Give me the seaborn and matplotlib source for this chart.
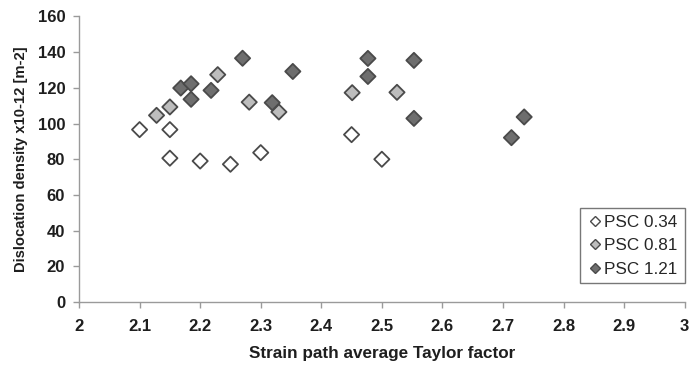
import matplotlib
matplotlib.use("Agg")
import matplotlib.pyplot as plt
import seaborn as sns
import pandas as pd

series_names = ["PSC 0.34", "PSC 0.81", "PSC 1.21"]

x_034 = [2.10, 2.15, 2.15, 2.20, 2.25, 2.30, 2.45, 2.50]
y_034 = [96.6, 96.6, 80.6, 79.0, 77.2, 83.7, 93.8, 80.0]

x_081 = [2.128, 2.15, 2.229, 2.281, 2.33, 2.451, 2.525]
y_081 = [104.6, 109.3, 127.4, 112.0, 106.5, 117.3, 117.5]

x_121 = [2.168, 2.185, 2.185, 2.218, 2.27, 2.319, 2.353, 2.477, 2.477, 2.553, 2.553, 2.714, 2.735]
y_121 = [119.9, 122.3, 113.6, 118.6, 136.6, 111.7, 129.2, 136.5, 126.4, 135.4, 102.9, 92.1, 103.7]

x_ticks = [2.0, 2.1, 2.2, 2.3, 2.4, 2.5, 2.6, 2.7, 2.8, 2.9, 3.0]
x_tick_labels = ["2", "2.1", "2.2", "2.3", "2.4", "2.5", "2.6", "2.7", "2.8", "2.9", "3"]
y_ticks = [0, 20, 40, 60, 80, 100, 120, 140, 160]

df = pd.concat([
    pd.DataFrame({"x": x_034, "y": y_034, "series": series_names[0]}),
    pd.DataFrame({"x": x_081, "y": y_081, "series": series_names[1]}),
    pd.DataFrame({"x": x_121, "y": y_121, "series": series_names[2]}),
], ignore_index=True)

sns.set_theme(style="white")
plt.rcParams["font.family"] = ["Liberation Sans", "DejaVu Sans"]

fig = plt.figure(figsize=(6.89, 3.65), dpi=100)
ax = fig.add_axes([0.1147, 0.1726, 0.9937 - 0.1147, 0.9548 - 0.1726])

palette = {"PSC 0.34": "#ffffff", "PSC 0.81": "#bdbdbd", "PSC 1.21": "#6e6e6e"}
sns.scatterplot(data=df, x="x", y="y", hue="series", palette=palette,
                marker="D", s=60, edgecolor="#4a4a4a", linewidth=1.3,
                ax=ax, legend=True, zorder=3)

ax.set_xlim(2.0, 3.0)
ax.set_ylim(0, 160)
ax.set_xticks(x_ticks)
ax.set_xticklabels(x_tick_labels)
ax.set_yticks(y_ticks)

for s in ["top", "right"]:
    ax.spines[s].set_visible(False)
for s in ["left", "bottom"]:
    ax.spines[s].set_color("#9a9a9a")
    ax.spines[s].set_linewidth(1.0)

ax.tick_params(axis="both", which="major", direction="out", length=4, width=1,
               color="#9a9a9a", labelsize=12, labelcolor="#1e1e1e",
               bottom=True, left=True)
ax.tick_params(axis="x", pad=8)
ax.tick_params(axis="y", pad=6)
for lab in ax.get_xticklabels() + ax.get_yticklabels():
    lab.set_fontweight("bold")

ax.set_xlabel("Strain path average Taylor factor", fontsize=12.3, fontweight="bold",
              color="#1e1e1e", labelpad=9)
ax.set_ylabel("Dislocation density x10-12 [m-2]", fontsize=10.6, fontweight="bold",
              color="#1e1e1e", labelpad=7)

leg = ax.legend(loc="lower right", bbox_to_anchor=(1.0, 0.065), borderaxespad=0,
                frameon=True, fontsize=12.3, handletextpad=0.05, handlelength=1.0,
                borderpad=0.4, labelspacing=0.5, fancybox=False)
leg.get_frame().set_edgecolor("#555555")
leg.get_frame().set_linewidth(1.0)
for h in leg.legend_handles:
    if hasattr(h, "set_markersize"):
        h.set_markersize(5.5)
        h.set_markeredgecolor("#4a4a4a")
        h.set_markeredgewidth(1.0)
    else:
        h.set_sizes([28])
        h.set_edgecolor("#4a4a4a")

fig.savefig("out.png", dpi=100)
